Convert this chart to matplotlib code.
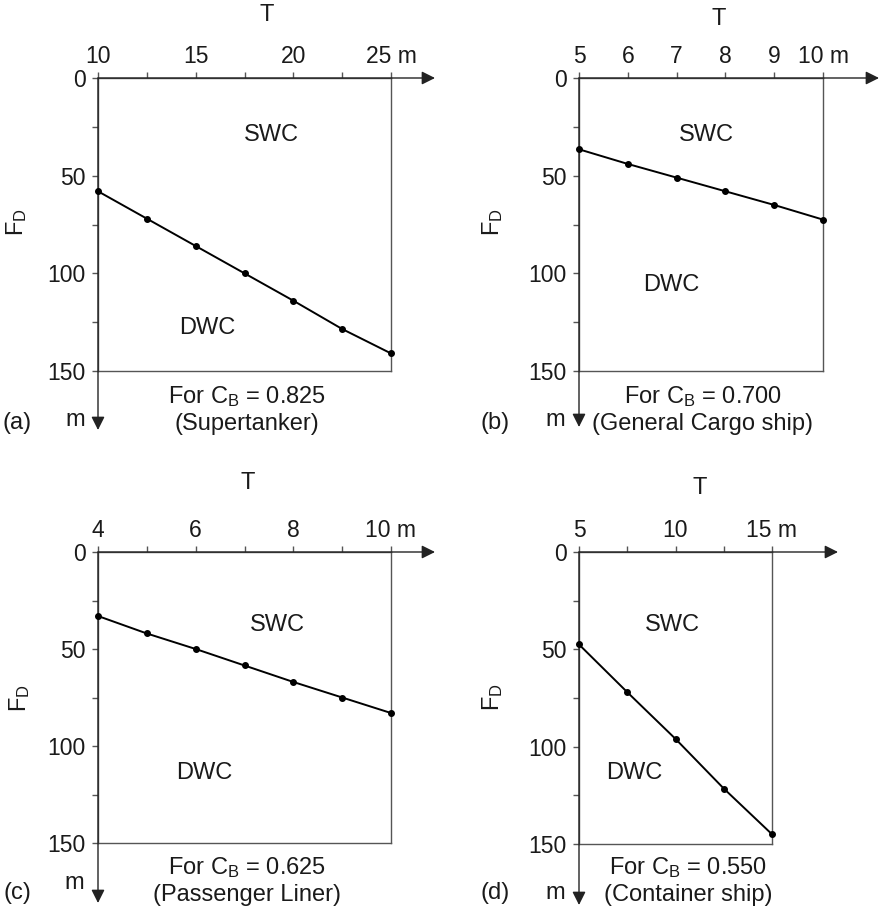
import matplotlib
matplotlib.use('Agg')
import matplotlib.pyplot as plt

plt.rcParams['font.family'] = ['Liberation Sans', 'DejaVu Sans']
plt.rcParams['mathtext.fontset'] = 'custom'
plt.rcParams['mathtext.rm'] = 'Liberation Sans'
plt.rcParams['mathtext.it'] = 'Liberation Sans:italic'
plt.rcParams['mathtext.bf'] = 'Liberation Sans:bold'

W, H = 885, 911
fig = plt.figure(figsize=(W / 100, H / 100), dpi=100)

# ---------------- data ----------------
a_T = [10, 12.5, 15, 17.5, 20, 22.5, 25]
a_FD = [58, 72, 86, 100, 114, 128.5, 141]
b_T = [5, 6, 7, 8, 9, 10]
b_FD = [36.5, 44, 51, 58, 65, 72.5]
c_T = [4, 5, 6, 7, 8, 9, 10]
c_FD = [33, 42, 50, 58.5, 67, 75, 83]
d_T = [5, 7.5, 10, 12.5, 15]
d_FD = [47.5, 72, 96, 121.5, 145]

a_xticks = [10, 15, 20, 25]
a_xlabels = ['10', '15', '20', '25 m']
a_xminor = [12.5, 17.5, 22.5]
b_xticks = [5, 6, 7, 8, 9, 10]
b_xlabels = ['5', '6', '7', '8', '9', '10 m']
b_xminor = []
c_xticks = [4, 6, 8, 10]
c_xlabels = ['4', '6', '8', '10 m']
c_xminor = [5, 7, 9]
d_xticks = [5, 10, 15]
d_xlabels = ['5', '10', '15 m']
d_xminor = [7.5, 12.5]

y_ticks = [0, 50, 100, 150]
y_labels = ['0', '50', '100', '150']
y_minor = [25, 75, 125]

a_cb, a_ship = '0.825', '(Supertanker)'
b_cb, b_ship = '0.700', '(General Cargo ship)'
c_cb, c_ship = '0.625', '(Passenger Liner)'
d_cb, d_ship = '0.550', '(Container ship)'

GRAY = '#555555'
TXT = '#1a1a1a'
FS = 17
TFS = 16.5


def fpos(x, y):
    return x / W, 1 - y / H


def ftext(x, y, s, **kw):
    fx, fy = fpos(x, y)
    kw.setdefault('ha', 'center')
    kw.setdefault('va', 'center')
    fig.text(fx, fy, s, fontsize=FS, color=TXT, **kw)


def panel(rect, tips, T, FD, xticks, xlabels, xminor, letter, cb, ship, pos):
    l, t, r, b = rect
    ax = fig.add_axes([l / W, 1 - b / H, (r - l) / W, (b - t) / H])
    ax.set_xlim(T[0], T[-1])
    ax.set_ylim(y_ticks[-1], y_ticks[0])
    ax.patch.set_visible(False)
    for sp in ax.spines.values():
        sp.set_color(GRAY)
        sp.set_linewidth(1.0)
    ax.xaxis.tick_top()
    ax.set_xticks(xticks)
    ax.set_xticklabels(xlabels)
    ax.set_xticks(xminor, minor=True)
    ax.set_yticks(y_ticks)
    ax.set_yticklabels(y_labels)
    ax.set_yticks(y_minor, minor=True)
    ax.tick_params(axis='both', which='both', direction='out', length=4,
                   width=1.0, color=GRAY, labelsize=TFS, labelcolor=TXT)
    ax.tick_params(axis='x', which='both', pad=3)
    ax.tick_params(axis='y', which='both', pad=5)

    tx, ty = tips
    ap = dict(arrowstyle='-|>,head_length=0.8,head_width=0.4', color='#222222',
              lw=1.0, shrinkA=0, shrinkB=0, mutation_scale=10)
    ax.annotate('', xy=((tx - l) / (r - l), 1), xytext=(0, 1),
                xycoords='axes fraction', arrowprops=ap, annotation_clip=False)
    ax.annotate('', xy=(0, -(ty - b) / (b - t)), xytext=(0, 1),
                xycoords='axes fraction', arrowprops=ap, annotation_clip=False)

    ax.plot(T, FD, color='black', lw=1.4, marker='o', ms=4, clip_on=False,
            zorder=5)

    ftext(*pos['T'], 'T')
    ftext(*pos['FD'], r'F$_\mathrm{D}$', rotation=90)
    ftext(*pos['SWC'], 'SWC')
    ftext(*pos['DWC'], 'DWC')
    ftext(*pos['for'], r'For C$_\mathrm{B}$ = ' + cb)
    ftext(*pos['ship'], ship)
    ftext(*pos['letter'], letter)
    ftext(*pos['m'], 'm')
    return ax


panel((98, 78, 391, 371), (435, 430), a_T, a_FD, a_xticks, a_xlabels, a_xminor,
      '(a)', a_cb, a_ship,
      dict(T=(267, 15), FD=(17, 222), SWC=(271, 135), DWC=(207, 328),
           **{'for': (247, 397)}, ship=(247, 424), letter=(17, 423), m=(75, 420)))
panel((579, 78, 823, 371), (879, 427), b_T, b_FD, b_xticks, b_xlabels, b_xminor,
      '(b)', b_cb, b_ship,
      dict(T=(719, 19), FD=(493, 222), SWC=(706, 135), DWC=(671, 285),
           **{'for': (703, 397)}, ship=(703, 424), letter=(495, 423), m=(555, 420)))
panel((98, 552, 391, 843), (435, 903), c_T, c_FD, c_xticks, c_xlabels, c_xminor,
      '(c)', c_cb, c_ship,
      dict(T=(248, 483), FD=(20, 698), SWC=(277, 625), DWC=(204, 773),
           **{'for': (247, 868)}, ship=(247, 895), letter=(17, 893), m=(74, 883)))
panel((579, 552, 772, 844), (838, 905), d_T, d_FD, d_xticks, d_xlabels, d_xminor,
      '(d)', d_cb, d_ship,
      dict(T=(700, 488), FD=(493, 697), SWC=(672, 625), DWC=(634, 773),
           **{'for': (688, 868)}, ship=(688, 895), letter=(495, 893), m=(555, 893)))

fig.savefig('out.png', dpi=100, facecolor='white')
